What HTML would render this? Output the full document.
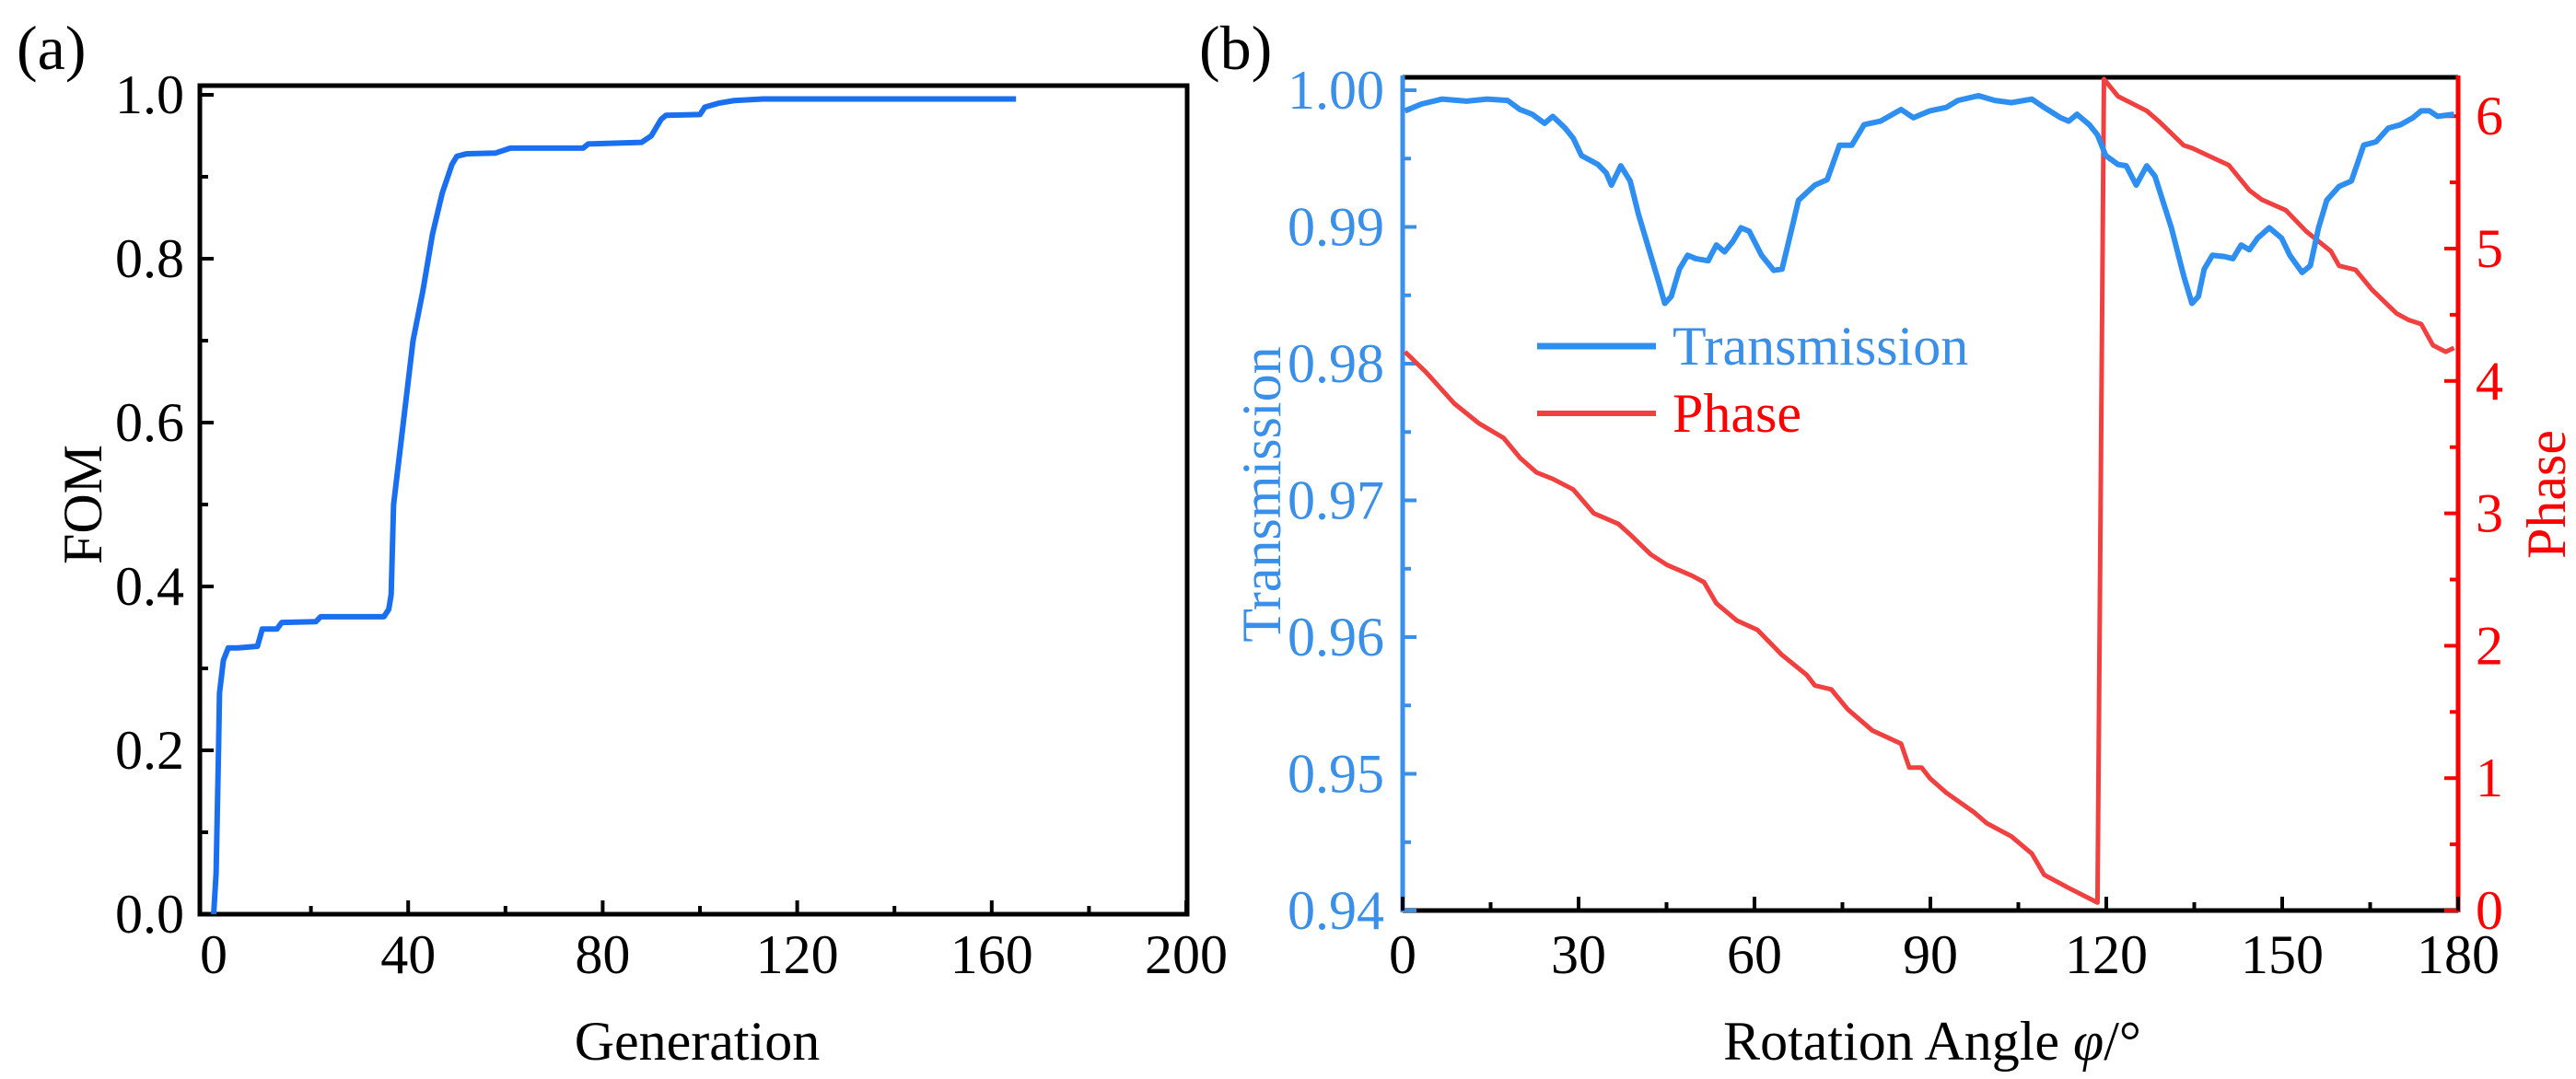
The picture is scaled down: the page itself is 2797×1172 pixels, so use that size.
<!DOCTYPE html>
<html><head><meta charset="utf-8"><style>
body{margin:0;background:#fff}
svg{display:block;font-family:"Liberation Serif",serif}
</style></head><body>
<svg id="fig" width="2797" height="1172" viewBox="0 0 2797 1172">
<g id="pa"></g>
<g id="pb"></g>
</svg>
<script>
// Panel (a)
const genTicks=[0,40,80,120,160,200];
const fomTicks=["0.0","0.2","0.4","0.6","0.8","1.0"];
const genVals=[0,0.5,1,1.2,2,3,5,9,10,13,14,21,22,35,36,36.5,37,38,39,40,41,43,45,47,49,50,52,58,61,76,77,88,90,92,93,100,101,104,107,113,165];
const fomVals=[0,0.05,0.2,0.27,0.31,0.325,0.325,0.327,0.348,0.348,0.356,0.357,0.363,0.363,0.372,0.39,0.5,0.55,0.6,0.65,0.7,0.76,0.83,0.88,0.915,0.925,0.928,0.929,0.935,0.935,0.94,0.942,0.95,0.97,0.975,0.976,0.985,0.99,0.993,0.995,0.995];
// Panel (b)
const angTicks=[0,30,60,90,120,150,180];
const transTicks=["0.94","0.95","0.96","0.97","0.98","0.99","1.00"];
const phaseTicks=[0,1,2,3,4,5,6];
const tAng=[0.4,3.2,6.7,10.9,14.4,17.9,20,22.1,24.2,25.6,27.7,29.1,30.5,33.3,34.7,35.6,37.2,38.8,40.2,42.3,43.7,44.7,45.8,47.2,48.6,50,52.1,53.5,54.9,56.3,57.7,59.1,61.2,63.3,64.7,66.4,67.5,70.3,72.4,74.5,76.6,78.7,81.5,85,87.1,89.9,92.7,94.7,98.2,101,103.8,107.3,109.4,112.2,113.6,115,117.1,118.5,119.9,122,123.4,125.1,126.9,128.3,131.1,133.2,134.6,135.7,136.7,138.1,140.2,141.6,143,144.4,145.8,147.8,149.9,151.3,153.4,154.8,156.2,157.6,159.7,161.8,163.9,166,168.1,170.2,172.3,173.7,175.1,176.5,179.3];
const tVals=[.99849,.99899,.99935,.9992,.99935,.99925,.99859,.99824,.99758,.99809,.99723,.99648,.99522,.99457,.99396,.99306,.99447,.99336,.99095,.98793,.98592,.98441,.98491,.98692,.98793,.98768,.98753,.98868,.98818,.98893,.98994,.98969,.98793,.98682,.98692,.98994,.99195,.99306,.99346,.99598,.99598,.99748,.99774,.99859,.99799,.99849,.99874,.99925,.9996,.99925,.99909,.99935,.99874,.99799,.99774,.99824,.99748,.99673,.99522,.99457,.99447,.99306,.99447,.99371,.98994,.98642,.98441,.98491,.98692,.98793,.98783,.98768,.98868,.98833,.98918,.98994,.98918,.98793,.98667,.98717,.98994,.99195,.99296,.99336,.99598,.99623,.99723,.99748,.99799,.99849,.99849,.99809,.99824];
const pAng=[0.4,3.9,8.8,13,17.2,20,22.8,25.6,29.1,32.6,36.8,38.8,42.3,45.1,49.3,51.4,53.5,57,60.5,64.7,68.9,70.3,73.1,75.9,80.1,85,86.4,88.5,89.9,92.7,97.5,99.6,103.8,107.3,109.4,113.6,118.5,119.6,122,126.9,129,133.2,134.6,140.9,144.4,146.5,150.6,154.1,158.3,159.7,162.5,165.3,169.5,171.6,173.7,175.7,177.9,179.3];
const pVals=[4.22,4.07,3.83,3.68,3.57,3.42,3.31,3.26,3.18,3.0,2.92,2.84,2.69,2.61,2.53,2.48,2.32,2.19,2.12,1.93,1.78,1.70,1.67,1.52,1.36,1.26,1.08,1.08,1.0,0.89,0.74,0.66,0.56,0.43,0.27,0.17,0.06,6.28,6.15,6.04,5.96,5.78,5.76,5.63,5.44,5.37,5.29,5.13,4.98,4.87,4.84,4.69,4.51,4.46,4.43,4.27,4.22,4.25];

const NS="http://www.w3.org/2000/svg";
function mk(parent,tag,attrs,text){const e=document.createElementNS(NS,tag);for(const k in attrs)e.setAttribute(k,attrs[k]);if(text!==undefined)e.textContent=text;parent.appendChild(e);return e;}
const pa=document.getElementById('pa'), pb=document.getElementById('pb');

// ---- Panel a scales
const ax=v=>232+v*5.28, ay=v=>993-v*890;
let el;
el=mk(pa,'rect',{x:217,y:93,width:1072,height:900,fill:'none',stroke:'#000','stroke-width':5});

for(let i=0;i<=10;i++){const v=i/10;
  el=mk(pa,'line',{x1:217,x2:217+(i%2==0?15:9),y1:ay(v),y2:ay(v),stroke:'#000','stroke-width':4});
  }
fomTicks.forEach(t=>{el=mk(pa,'text',{x:200,y:ay(+t)+20,'text-anchor':'end','font-size':60},t);
  });
for(let g=0;g<=200;g+=20){el=mk(pa,'line',{x1:ax(g),x2:ax(g),y1:993,y2:993-(g%40==0?15:9),stroke:'#000','stroke-width':4});
  }
genTicks.forEach(g=>{el=mk(pa,'text',{x:ax(g),y:1057,'text-anchor':'middle','font-size':60},g);
  });
el=mk(pa,'text',{x:757,y:1151,'text-anchor':'middle','font-size':60},'Generation');

el=mk(pa,'text',{x:0,y:0,'text-anchor':'middle','font-size':60,transform:'translate(110,548) rotate(-90)'},'FOM');

el=mk(pa,'text',{x:18,y:75,'font-size':68},'(a)');

el=mk(pa,'polyline',{points:genVals.map((g,i)=>ax(g)+','+ay(fomVals[i])).join(' '),fill:'none',stroke:'#1a6ef0','stroke-width':6,'stroke-linejoin':'round'});


// ---- Panel b scales
const bx=v=>1523+v*(1146/180), by=v=>989-(v-0.94)*14850, py=v=>989-v*143.8;
const BL='#3a8fe8', RD='#ff0000';
el=mk(pb,'line',{x1:1523,x2:2669,y1:84,y2:84,stroke:'#000','stroke-width':5});

el=mk(pb,'line',{x1:1523,x2:2669,y1:989,y2:989,stroke:'#000','stroke-width':5});

el=mk(pb,'line',{x1:1523,x2:1523,y1:82,y2:991,stroke:BL,'stroke-width':5});

el=mk(pb,'line',{x1:2669,x2:2669,y1:82,y2:991,stroke:RD,'stroke-width':5});

for(let i=0;i<=12;i++){const v=0.94+i*0.005;
  el=mk(pb,'line',{x1:1523,x2:1523+(i%2==0?15:9),y1:by(v),y2:by(v),stroke:BL,'stroke-width':4});
  }
transTicks.forEach(t=>{el=mk(pb,'text',{x:1503,y:by(+t)+20,'text-anchor':'end','font-size':60,fill:BL},t);
  });
for(let i=0;i<=12;i++){const v=i*0.5;
  el=mk(pb,'line',{x1:2669,x2:2669-(i%2==0?15:9),y1:py(v),y2:py(v),stroke:RD,'stroke-width':4});
  }
phaseTicks.forEach(t=>{el=mk(pb,'text',{x:2688,y:py(t)+20,'font-size':60,fill:RD},t);
  });
for(let a=0;a<=180;a+=15){el=mk(pb,'line',{x1:bx(a),x2:bx(a),y1:989,y2:989-(a%30==0?15:9),stroke:'#000','stroke-width':4});
  }
angTicks.forEach(a=>{el=mk(pb,'text',{x:bx(a),y:1057,'text-anchor':'middle','font-size':60},a);
  });
el=mk(pb,'text',{x:2098,y:1151,'text-anchor':'middle','font-size':60},'Rotation Angle ');

el.innerHTML='Rotation Angle <tspan font-style="italic">φ</tspan>/°';
el=mk(pb,'text',{x:0,y:0,'text-anchor':'middle','font-size':60,fill:BL,transform:'translate(1390,537) rotate(-90)'},'Transmission');

el=mk(pb,'text',{x:0,y:0,'text-anchor':'middle','font-size':60,fill:RD,transform:'translate(2785,537) rotate(-90)'},'Phase');

el=mk(pb,'text',{x:1302,y:75,'font-size':68},'(b)');

el=mk(pb,'polyline',{points:pAng.map((a,i)=>bx(a)+','+py(pVals[i])).join(' '),fill:'none',stroke:'#f04040','stroke-width':5,'stroke-linejoin':'round'});

el=mk(pb,'polyline',{points:tAng.map((a,i)=>bx(a)+','+by(tVals[i])).join(' '),fill:'none',stroke:'#2e8ff0','stroke-width':6,'stroke-linejoin':'round'});

// legend
el=mk(pb,'line',{x1:1669,x2:1798,y1:376,y2:376,stroke:'#2e8ff0','stroke-width':7});

el=mk(pb,'text',{x:1816,y:396,'font-size':60,fill:BL},'Transmission');

el=mk(pb,'line',{x1:1669,x2:1798,y1:449,y2:449,stroke:'#f04040','stroke-width':6});

el=mk(pb,'text',{x:1816,y:469,'font-size':60,fill:RD},'Phase');

</script>
</body></html>
